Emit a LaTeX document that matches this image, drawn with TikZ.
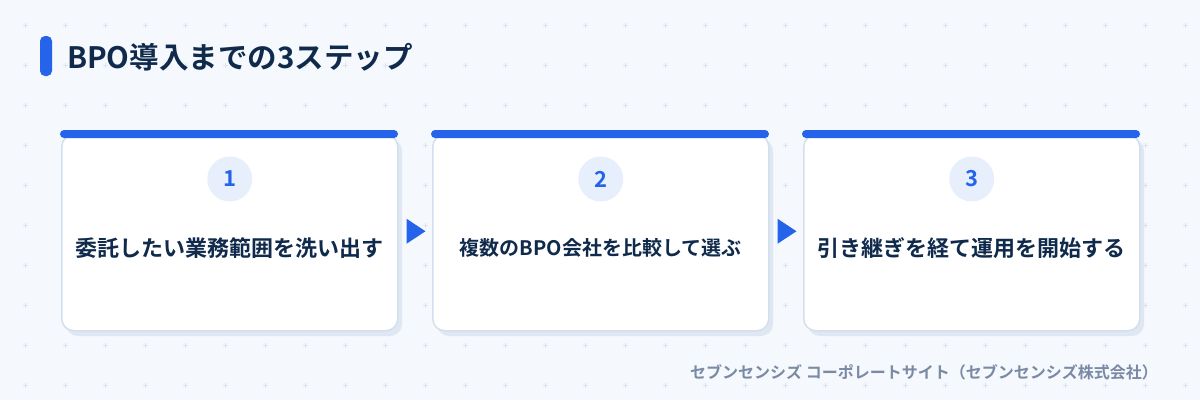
\documentclass[tikz,border=0pt]{standalone}
\usepackage{fontspec}
\setmainfont{Noto Sans CJK JP}[BoldFont={Noto Sans CJK JP Bold}]
\usetikzlibrary{calc}
\definecolor{bgc}{HTML}{F5F8FC}
\definecolor{gridc}{HTML}{DCE3EE}
\definecolor{mainblue}{HTML}{2563EB}
\definecolor{navy}{HTML}{102A4C}
\definecolor{circfill}{HTML}{E7EFFC}
\definecolor{cardborder}{HTML}{D3DFEE}
\definecolor{shadowc}{HTML}{DFE7F2}
\definecolor{footc}{HTML}{7A8AA5}
\tikzset{
  card/.style={draw=cardborder, line width=1.5pt, fill=white, rounded corners=12pt,
    minimum width=336pt, minimum height=196pt, anchor=north west, inner sep=0pt},
  cardshadow/.style={fill=shadowc, rounded corners=12pt},
  topbar/.style={fill=mainblue, rounded corners=4pt},
  numcirc/.style={circle, fill=circfill, minimum size=45pt, inner sep=0pt,
    text=mainblue, font=\bfseries\fontsize{22}{24}\selectfont},
  steptext/.style={text=navy, font=\bfseries\fontsize{22}{26}\selectfont, inner sep=0pt},
  steparrow/.style={fill=mainblue},
  gridmark/.style={draw=gridc, line width=0.9pt}
}
\begin{document}
\begin{tikzpicture}[x=1pt,y=-1pt]
\fill[bgc] (0,0) rectangle (1200,400);
\useasboundingbox (0,0) rectangle (1200,400);
% grid marks
\foreach \gx in {25,65,...,1185}{
  \foreach \gy in {25,65,...,385}{
    \draw[gridmark] (\gx-2.5,\gy) -- (\gx+2.5,\gy) (\gx,\gy-2.5) -- (\gx,\gy+2.5);
  }
}
% title
\fill[mainblue, rounded corners=5pt] (40,36) rectangle (52,76);
\node[anchor=west, inner sep=0pt, text=navy, font=\bfseries\fontsize{29.5}{34}\selectfont] (title) at (67,57.5) {BPO導入までの3ステップ};
% cards
\foreach \i/\cx in {1/61, 2/432, 3/803}{
  \fill[cardshadow] (\cx+5,139) rectangle (\cx+341,336);
  \node[card] (card\i) at (\cx,134) {};
  \fill[topbar] (\cx-1,130) rectangle (\cx+337,138);
}
\node[numcirc] (n1) at ($(card1.north)+(0,45)$) {1};
\node[numcirc] (n2) at ($(card2.north)+(0,45)$) {2};
\node[numcirc] (n3) at ($(card3.north)+(0,45)$) {3};
\node[steptext] (t1) at ($(card1.north)+(0,114)$) {委託したい業務範囲を洗い出す};
\node[steptext, font=\bfseries\fontsize{20}{24}\selectfont] (t2) at ($(card2.north)+(0,114)$) {複数のBPO会社を比較して選ぶ};
\node[steptext] (t3) at ($(card3.north)+(0,114)$) {引き継ぎを経て運用を開始する};
% arrows
\fill[steparrow] ($(card1.east)+(8,-14)$) -- ++(19,12.5) -- ++(-19,12.5) -- cycle;
\fill[steparrow] ($(card2.east)+(8,-14)$) -- ++(19,12.5) -- ++(-19,12.5) -- cycle;
% footer
\node[anchor=east, inner sep=0pt, text=footc, font=\bfseries\fontsize{16}{19}\selectfont] (foot) at (1158,372) {セブンセンシズ コーポレートサイト（セブンセンシズ株式会社）};
\end{tikzpicture}
\end{document}
